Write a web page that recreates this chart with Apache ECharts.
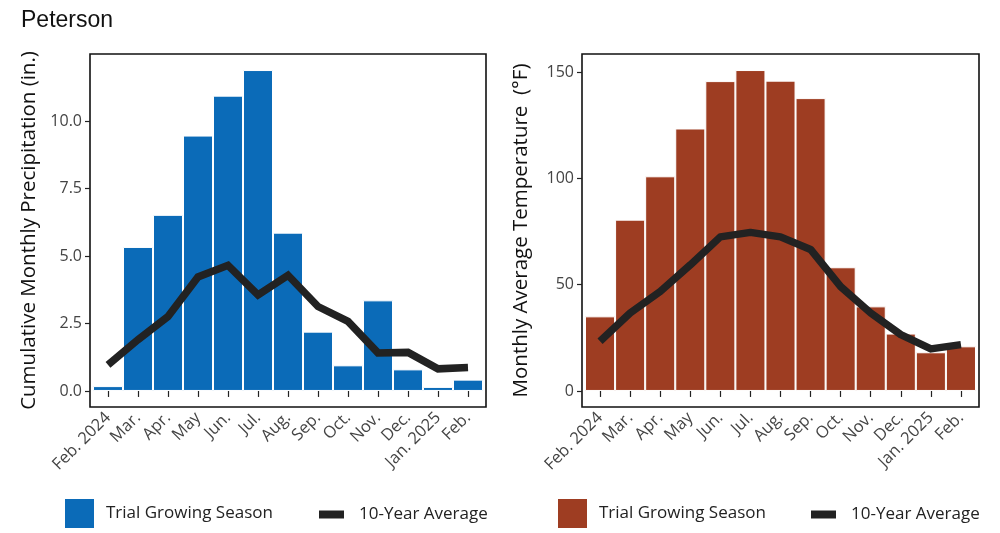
<!DOCTYPE html>
<html>
<head>
<meta charset="utf-8">
<script src="https://cdn.jsdelivr.net/npm/echarts@6/dist/echarts.min.js"></script>
<style>
  html, body { margin: 0; padding: 0; background: #fff; }
  #chart { width: 1000px; height: 533px; }
</style>
</head>
<body>
<div id="chart"></div>
<script>
// 月份标签
var months = ['Feb. 2024', 'Mar.', 'Apr.', 'May', 'Jun.', 'Jul.', 'Aug.', 'Sep.', 'Oct.', 'Nov.', 'Dec.', 'Jan. 2025', 'Feb.'];
var monthPos = [1, 2, 3, 4, 5, 6, 7, 8, 9, 10, 11, 12, 13];

// 降水 (in.)
var precipTrial = [0.18, 5.34, 6.53, 9.47, 10.95, 11.9, 5.87, 2.2, 0.95, 3.36, 0.8, 0.15, 0.42];
var precipAvg = [0.97, 1.9, 2.76, 4.23, 4.66, 3.56, 4.29, 3.13, 2.58, 1.41, 1.43, 0.82, 0.87];
var precipTicks = [0, 2.5, 5, 7.5, 10];

// 温度 (°F)
var tempTrial = [35.1, 80.6, 101, 123.5, 145.8, 151, 146, 137.8, 58.2, 39.8, 27, 18.2, 21];
var tempAvg = [23.4, 36.7, 46.8, 59.3, 72.5, 74.6, 72.5, 66.6, 49.1, 36.7, 26.5, 19.8, 21.8];
var tempTicks = [0, 50, 100, 150];

var blue = '#0b6bb8';
var brown = '#9e3d22';
var ink = '#222222';
var font = 'Open Sans';

function pairs(arr) {
    return arr.map(function (v, i) { return [monthPos[i], v]; });
}

function xAxisFor(gridIndex) {
    return {
        type: 'value',
        gridIndex: gridIndex,
        min: 0.4,
        max: 13.6,
        splitLine: { show: false },
        axisLine: { show: false },
        axisTick: { show: true, length: 6, customValues: monthPos, lineStyle: { color: '#222', width: 1.2 } },
        axisLabel: {
            customValues: monthPos,
            rotate: 45,
            margin: 8,
            color: '#444',
            fontSize: 16.5,
            fontFamily: font,
            formatter: function (v) { return months[Math.round(v) - 1]; }
        }
    };
}

function yAxisFor(gridIndex, name, min, max, ticks, fmt) {
    return {
        type: 'value',
        gridIndex: gridIndex,
        min: min,
        max: max,
        name: name,
        nameLocation: 'middle',
        nameGap: 50,
        nameTextStyle: { fontSize: 20.5, color: '#111', fontFamily: font },
        splitLine: { show: false },
        axisLine: { show: false },
        axisTick: { show: true, length: 5, customValues: ticks, lineStyle: { color: '#222', width: 1.2 } },
        axisLabel: {
            customValues: ticks,
            color: '#444',
            fontSize: 16,
            fontFamily: font,
            margin: 8,
            formatter: fmt
        }
    };
}

function legendBox(left, top, name, color) {
    return {
        left: left,
        top: top,
        padding: 0,
        icon: 'rect',
        itemWidth: 31,
        itemHeight: 31,
        selectedMode: false,
        textStyle: { fontSize: 17, color: '#222', fontFamily: font, padding: [0, 0, 0, 6] },
        data: [{ name: name, itemStyle: { color: color } }]
    };
}

function legendLine(left, top, name) {
    return {
        left: left,
        top: top,
        padding: 0,
        icon: 'rect',
        itemWidth: 25,
        itemHeight: 8,
        selectedMode: false,
        textStyle: { fontSize: 17, color: '#222', fontFamily: font, padding: [0, 0, 0, 10] },
        data: [{ name: name, itemStyle: { color: ink } }]
    };
}

var chart = echarts.init(document.getElementById('chart'), null, { renderer: 'canvas' });

var option = {
    backgroundColor: '#fff',
    animation: false,
    title: {
        text: 'Peterson',
        left: 16,
        top: 4,
        textStyle: { fontSize: 23, fontWeight: 'normal', color: '#111', fontFamily: 'Liberation Sans' }
    },
    legend: [
        legendBox(63, 497, 'Trial Growing Season', blue),
        legendLine(319, 506, '10-Year Average'),
        legendBox(556, 497, 'Trial Growing Season ', brown),
        legendLine(811, 506, '10-Year Average ')
    ],
    grid: [
        { left: 90, right: 514, top: 54, bottom: 126, show: true, borderColor: '#111', borderWidth: 1.6, backgroundColor: 'transparent' },
        { left: 582, right: 21, top: 54, bottom: 126, show: true, borderColor: '#111', borderWidth: 1.6, backgroundColor: 'transparent' }
    ],
    xAxis: [xAxisFor(0), xAxisFor(1)],
    yAxis: [
        yAxisFor(0, 'Cumulative Monthly Precipitation (in.)', -0.595, 12.495, precipTicks,
            function (v) { return v.toFixed(1); }),
        yAxisFor(1, 'Monthly Average Temperature  (°F)', -7.55, 158.55, tempTicks,
            function (v) { return String(v); })
    ],
    series: [
        {
            name: 'Trial Growing Season',
            type: 'bar',
            xAxisIndex: 0,
            yAxisIndex: 0,
            barCategoryGap: '0%',
            itemStyle: { color: blue, borderColor: '#ffffff', borderWidth: 1 },
            data: pairs(precipTrial)
        },
        {
            name: '10-Year Average',
            type: 'line',
            xAxisIndex: 0,
            yAxisIndex: 0,
            symbol: 'none',
            z: 5,
            lineStyle: { color: ink, width: 7.5, cap: 'butt', join: 'miter' },
            itemStyle: { color: ink },
            data: pairs(precipAvg)
        },
        {
            name: 'Trial Growing Season ',
            type: 'bar',
            xAxisIndex: 1,
            yAxisIndex: 1,
            barCategoryGap: '0%',
            itemStyle: { color: brown, borderColor: '#ffffff', borderWidth: 1 },
            data: pairs(tempTrial)
        },
        {
            name: '10-Year Average ',
            type: 'line',
            xAxisIndex: 1,
            yAxisIndex: 1,
            symbol: 'none',
            z: 5,
            lineStyle: { color: ink, width: 7.5, cap: 'butt', join: 'round' },
            itemStyle: { color: ink },
            data: pairs(tempAvg)
        }
    ]
};

chart.setOption(option);
</script>
</body>
</html>
